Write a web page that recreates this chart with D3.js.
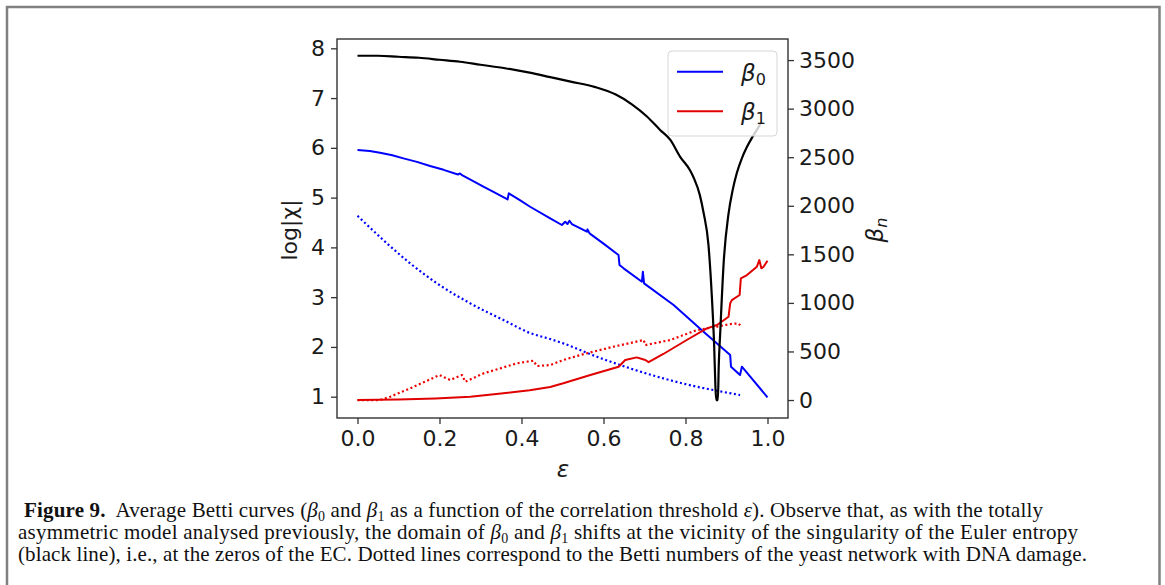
<!DOCTYPE html>
<html><head><meta charset="utf-8">
<script src="https://cdn.jsdelivr.net/npm/d3@7"></script>
<style>body{margin:0;background:#fff}svg{display:block}</style>
</head><body>
<svg id="c" width="1165" height="585"></svg>
<script>
// ---- data ----
const xTicks = [0, 0.2, 0.4, 0.6, 0.8, 1.0];
const leftTicks = [1, 2, 3, 4, 5, 6, 7, 8];
const rightTicks = [0, 500, 1000, 1500, 2000, 2500, 3000, 3500];

const eulerEps = [0,0.05,0.10,0.15,0.20,0.25,0.30,0.36,0.42,0.47,0.52,0.58,0.63,0.67,0.706,0.738,0.763,0.787,0.811,0.820,0.835,0.844,0.856,0.864,0.870,0.873,0.875,0.879,0.881,0.885,0.893,0.905,0.915,0.925,0.937,0.950,0.962,0.974,0.986];
const eulerLog = [7.85,7.85,7.83,7.81,7.77,7.73,7.67,7.60,7.51,7.42,7.33,7.22,7.07,6.87,6.63,6.36,6.16,5.82,5.55,5.40,5.05,4.70,4.05,3.05,2.00,1.20,0.93,0.93,1.60,2.34,3.68,4.68,5.15,5.49,5.78,6.02,6.20,6.36,6.53];

const beta0Eps = [0,0.03,0.055,0.085,0.112,0.145,0.177,0.21,0.245,0.25,0.256,0.28,0.307,0.335,0.366,0.369,0.395,0.421,0.470,0.4985,0.5066,0.5123,0.517,0.5228,0.5595,0.561,0.566,0.6,0.6366,0.639,0.649,0.6937,0.696,0.699,0.771,0.844,0.909,0.911,0.933,0.9375,1.0];
const beta0Val = [2574,2565,2545,2520,2488,2452,2409,2370,2322,2333,2312,2258,2196,2135,2065,2128,2060,1990,1870,1802,1836,1812,1846,1812,1733,1757,1716,1610,1493,1390,1356,1218,1321,1201,978,703,463,343,257,343,28];

const beta1Eps = [0,0.10,0.19,0.275,0.356,0.42,0.47,0.502,0.568,0.637,0.653,0.681,0.702,0.71,0.746,0.803,0.852,0.877,0.905,0.909,0.913,0.932,0.935,0.95,0.974,0.98,0.985,0.99,1.0];
const beta1Val = [0,5,17,34,69,100,135,172,257,343,412,439,412,390,474,618,738,772,858,995,1029,1081,1253,1287,1372,1441,1356,1370,1434];

const yeast0Eps = [0,0.063,0.1285,0.194,0.275,0.356,0.421,0.47,0.502,0.584,0.665,0.746,0.828,0.877,0.933];
const yeast0Val = [1897,1647,1407,1201,995,824,690,628,583,446,326,223,137,96,51];

const yeast1Eps = [0,0.055,0.08,0.1285,0.20,0.226,0.255,0.2627,0.307,0.389,0.429,0.4375,0.47,0.502,0.543,0.624,0.698,0.702,0.763,0.828,0.877,0.909,0.929,0.935];
const yeast1Val = [0,0,34,120,257,206,257,188,274,378,405,350,360,412,463,549,618,566,618,721,755,782,789,762];

const legendLabels = [["β","0"],["β","1"]];

// ---- layout ----
const svg = d3.select("#c");
const L = 337, R = 788, T = 39, B = 418;
const x = d3.scaleLinear().domain([-0.05, 1.05]).range([L, R]);
const yL = d3.scaleLinear().domain([0.572, 8.187]).range([B, T]);
const yR = d3.scaleLinear().domain([-185, 3717]).range([B, T]);
const font = "DejaVu Sans, sans-serif";
const ink = "#1a1a1a";

// outer frame
svg.append("path").attr("d","M7,585 V7 H1159.5 V585").attr("fill","none")
  .attr("stroke","#808080").attr("stroke-width",2.5);

// axes
const gx = svg.append("g").attr("transform",`translate(0,${B})`)
  .call(d3.axisBottom(x).tickValues(xTicks).tickFormat(d3.format(".1f")).tickSize(6).tickPadding(6));
const gl = svg.append("g").attr("transform",`translate(${L},0)`)
  .call(d3.axisLeft(yL).tickValues(leftTicks).tickFormat(d3.format("d")).tickSize(6).tickPadding(6));
const gr = svg.append("g").attr("transform",`translate(${R},0)`)
  .call(d3.axisRight(yR).tickValues(rightTicks).tickFormat(d3.format("d")).tickSize(6).tickPadding(5));
[gx,gl,gr].forEach(g=>{
  g.select(".domain").remove();
  g.selectAll(".tick line").attr("stroke","#333").attr("stroke-width",1.3);
  g.selectAll(".tick text").attr("font-family",font).attr("font-size",22).attr("fill",ink);
});
// spines
svg.append("rect").attr("x",L).attr("y",T).attr("width",R-L).attr("height",B-T)
  .attr("fill","none").attr("stroke","#333").attr("stroke-width",1.4);

// lines
function draw(xs, ys, yScale, color, dotted, curve){
  const pts = xs.map((e,i)=>[e, ys[i]]);
  const line = d3.line().x(d=>x(d[0])).y(d=>yScale(d[1])).curve(curve || d3.curveLinear);
  const p = svg.append("path").datum(pts).attr("d",line).attr("fill","none")
    .attr("stroke",color).attr("stroke-width",2).attr("stroke-linejoin","round");
  if (dotted) p.attr("stroke-dasharray","2,2.6").attr("stroke-width",2.2);
  return p;
}
draw(yeast0Eps, yeast0Val, yR, "#0000ff", true, d3.curveMonotoneX);
draw(yeast1Eps, yeast1Val, yR, "#ee0000", true);
draw(beta0Eps, beta0Val, yR, "#0000ff", false);
draw(beta1Eps, beta1Val, yR, "#e00000", false);
draw(eulerEps, eulerLog, yL, "#000000", false, d3.curveMonotoneX).attr("stroke-width",2.2);

// legend
const lg = svg.append("g");
lg.append("rect").attr("x",668).attr("y",51).attr("width",109).attr("height",85).attr("rx",4)
  .attr("fill","#fff").attr("fill-opacity",0.8).attr("stroke","#d6d6d6").attr("stroke-width",1);
const legColors = ["#0000ff","#e00000"];
legendLabels.forEach((lab,i)=>{
  const yy = 71.7 + i*39.5;
  lg.append("line").attr("x1",677).attr("x2",723).attr("y1",yy).attr("y2",yy)
    .attr("stroke",legColors[i]).attr("stroke-width",2);
  const t = lg.append("text").attr("x",741).attr("y",yy+9).attr("font-family",font).attr("font-size",23).attr("fill",ink);
  t.append("tspan").attr("font-style","italic").text(lab[0]);
  t.append("tspan").attr("font-size",16).attr("dy",4).text(lab[1]);
});

// axis labels
svg.append("text").attr("x",563).attr("y",477).attr("text-anchor","middle")
  .attr("font-family",font).attr("font-size",23).attr("font-style","italic").attr("fill",ink).text("ε");
svg.append("text").attr("transform","translate(297,230) rotate(-90)").attr("text-anchor","middle")
  .attr("font-family",font).attr("font-size",22).attr("fill",ink).text("log|χ|");
const bl = svg.append("text").attr("transform","translate(883,230) rotate(-90)").attr("text-anchor","middle")
  .attr("font-family",font).attr("font-size",23).attr("fill",ink);
bl.append("tspan").attr("font-style","italic").text("β");
bl.append("tspan").attr("font-style","italic").attr("font-size",16).attr("dy",4).text("n");

// caption
const serif = "Liberation Serif, serif";
const capLines = [
  {x:24, y:517, w:1019, parts:[["b","Figure 9."],["t","\u00a0 Average Betti curves ("],["i","β"],["s","0"],["t"," and "],["i","β"],["s","1"],["t"," as a function of the correlation threshold "],["i","ε"],["t","). Observe that, as with the totally"]]},
  {x:18, y:539, w:1060, parts:[["t","asymmetric model analysed previously, the domain of "],["i","β"],["s","0"],["t"," and "],["i","β"],["s","1"],["t"," shifts at the vicinity of the singularity of the Euler entropy"]]},
  {x:18, y:561, w:1069, parts:[["t","(black line), i.e., at the zeros of the EC. Dotted lines correspond to the Betti numbers of the yeast network with DNA damage."]]}
];
capLines.forEach(cl=>{
  const t = svg.append("text").attr("x",cl.x).attr("y",cl.y).attr("font-family",serif)
    .attr("font-size",21).attr("fill","#111");
  let shifted = false;
  cl.parts.forEach(([k,s])=>{
    const sp = t.append("tspan").text(s);
    if (k==="b") sp.attr("font-weight","bold");
    if (k==="i") sp.attr("font-style","italic");
    if (k==="s") { sp.attr("font-size",14).attr("dy",4); shifted = true; }
    else if (shifted) { sp.attr("dy",-4); shifted = false; }
  });
  const w = t.node().getComputedTextLength();
  if (Math.abs(w - cl.w) < 120) t.attr("textLength", cl.w).attr("lengthAdjust","spacing");
});
</script>
</body></html>
